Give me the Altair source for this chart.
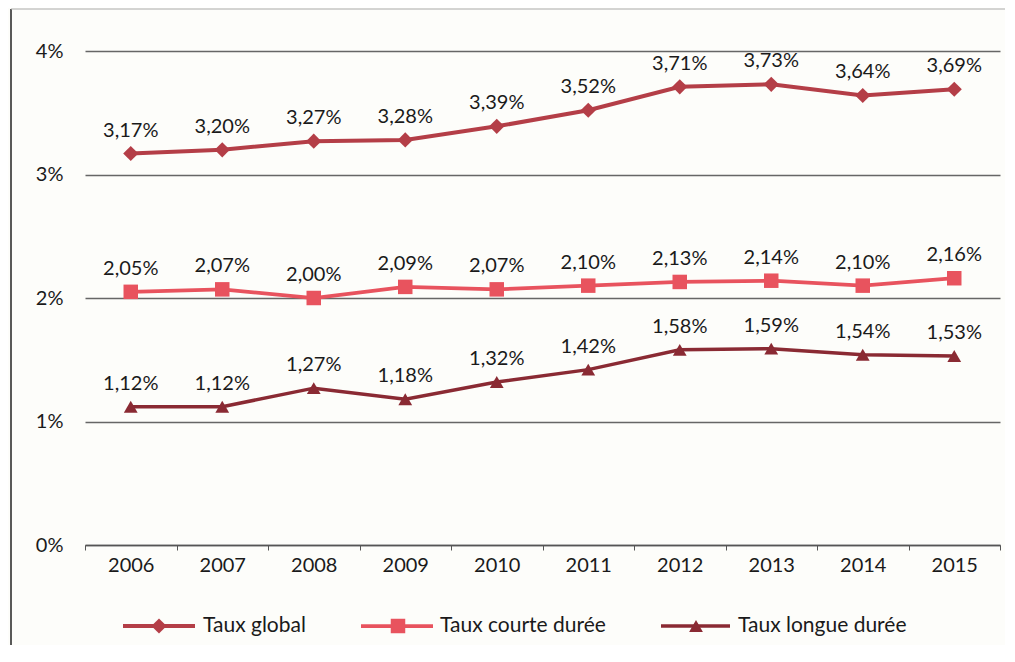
import altair as alt
import pandas as pd

years = ["2006", "2007", "2008", "2009", "2010", "2011", "2012", "2013", "2014", "2015"]
taux_global = [3.17, 3.20, 3.27, 3.28, 3.39, 3.52, 3.71, 3.73, 3.64, 3.69]
taux_courte = [2.05, 2.07, 2.00, 2.09, 2.07, 2.10, 2.13, 2.14, 2.10, 2.16]
taux_longue = [1.12, 1.12, 1.27, 1.18, 1.32, 1.42, 1.58, 1.59, 1.54, 1.53]
series_names = ["Taux global", "Taux courte durée", "Taux longue durée"]
series_colors = ["#b43e47", "#e8535e", "#8a2a33"]
series_shapes = ["diamond", "square", "triangle-up"]
y_ticks = [0, 1, 2, 3, 4]

FONT = "Lato"
FS = 20

rows = []
for name, vals in zip(series_names, [taux_global, taux_courte, taux_longue]):
    for yr, v in zip(years, vals):
        rows.append({"year": yr, "value": v, "series": name,
                     "label": f"{v:.2f}".replace(".", ",") + "%"})
df = pd.DataFrame(rows)

W, H = 915, 494

x = alt.X("year:O", sort=years, title=None,
          scale=alt.Scale(paddingInner=0, paddingOuter=0),
          axis=alt.Axis(labelAngle=0, labelFont=FONT, labelFontSize=FS, labelColor="#1a1a1a",
                        labelPadding=5, tickBand="extent", tickSize=5, tickColor="#555",
                        domainColor="#555", domainWidth=1.5, grid=False))
y = alt.Y("value:Q", title=None,
          scale=alt.Scale(domain=[0, 4], nice=False),
          axis=alt.Axis(values=y_ticks, labelExpr="datum.value + '%'", labelFont=FONT,
                        labelFontSize=FS, labelColor="#1a1a1a", labelPadding=22,
                        ticks=False, domain=False, grid=True, gridColor="#666",
                        gridWidth=1.3))
color = alt.Color("series:N", sort=series_names,
                  scale=alt.Scale(domain=series_names, range=series_colors), legend=None)
shape = alt.Shape("series:N", sort=series_names,
                  scale=alt.Scale(domain=series_names, range=series_shapes), legend=None)
strokew = alt.StrokeWidth("series:N", scale=alt.Scale(domain=series_names, range=[4, 3.5, 2.5]),
                          legend=None)
size = alt.Size("series:N", scale=alt.Scale(domain=series_names, range=[230, 190, 150]),
                legend=None)

base = alt.Chart(df)
lines = base.mark_line().encode(x=x, y=y, color=color, strokeWidth=strokew, detail="series:N")
points = base.mark_point(filled=True, opacity=1).encode(x=x, y=y, color=color, shape=shape, size=size)
labels = base.mark_text(dy=-23, font=FONT, fontSize=FS, color="#1a1a1a").encode(
    x=x, y=y, text="label:N")

# manual legend
leg = pd.DataFrame({
    "series": series_names,
    "x1": [38, 276, 576],
    "x2": [110, 348, 645],
    "xm": [74, 313, 611],
    "xt": [118, 355, 653],
})
leg_y = 575
leg_base = alt.Chart(leg)
leg_lines = leg_base.mark_rule().encode(
    x=alt.X("x1:Q", scale=None), x2="x2:Q", y=alt.value(leg_y), color=color, strokeWidth=strokew)
leg_pts = leg_base.mark_point(filled=True, opacity=1).encode(
    x=alt.X("xm:Q", scale=None), y=alt.value(leg_y), color=color, shape=shape, size=size)
leg_txt = leg_base.mark_text(align="left", baseline="middle", font=FONT, fontSize=FS + 1,
                             color="#1a1a1a").encode(
    x=alt.X("xt:Q", scale=None), y=alt.value(leg_y), text="series:N")

# frame
frame_v = alt.Chart(pd.DataFrame({"a": [0]})).mark_rule(color="#222", strokeWidth=1.5).encode(
    x=alt.value(-74), y=alt.value(-42), y2=alt.value(620))
frame_h = alt.Chart(pd.DataFrame({"a": [0]})).mark_rule(color="#aaa", strokeWidth=1).encode(
    x=alt.value(-74), x2=alt.value(930), y=alt.value(-42))

chart = alt.layer(lines, points, labels, leg_lines, leg_pts, leg_txt, frame_v, frame_h).properties(
    width=W, height=H,
    autosize=alt.AutoSizeParams(type="none"),
    padding={"left": 77, "top": 43, "right": 5, "bottom": 100},
    background="#fdfdfa",
).configure_view(stroke=None)

chart.save("out.html", embed_options={"renderer": "svg", "actions": False})
